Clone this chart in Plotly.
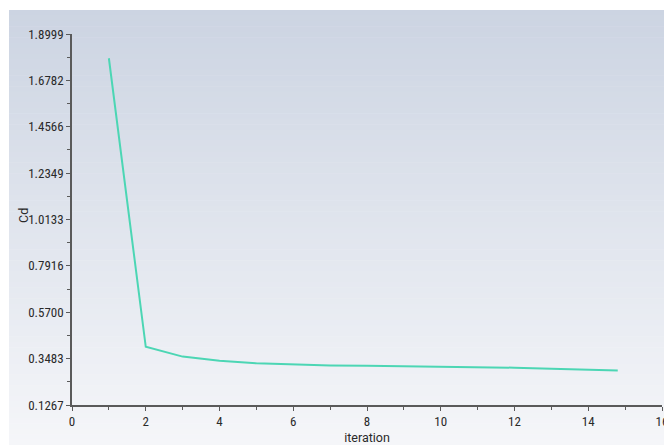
import plotly.graph_objects as go

# Data
iteration = [1, 2, 3, 4, 5, 6, 7, 8, 9, 10, 11, 12, 13, 14, 14.8]
cd = [1.784, 0.405, 0.358, 0.338, 0.326, 0.320, 0.316, 0.314, 0.312, 0.310,
      0.308, 0.305, 0.300, 0.295, 0.291]
y_ticks = [0.1267, 0.3483, 0.5700, 0.7916, 1.0133, 1.2349, 1.4566, 1.6782, 1.8999]
y_tick_text = ["0.1267", "0.3483", "0.5700", "0.7916", "1.0133", "1.2349", "1.4566", "1.6782", "1.8999"]
x_ticks = [0, 2, 4, 6, 8, 10, 12, 14, 16]

W, H = 664, 445
ml, mr, mt, mb = 72, 2, 34, 40
pw = W - ml - mr
ph = H - mt - mb

fig = go.Figure()
fig.add_trace(go.Scatter(
    x=iteration, y=cd, mode="lines",
    line=dict(color="rgb(76,214,180)", width=2),
    showlegend=False, hoverinfo="skip",
))

# gradient background bands (paper coordinates of the plot area)
shapes = []
top_c = (204, 212, 226)
bot_c = (245, 246, 249)
n = 80
for i in range(n):
    t = (i + 0.5) / n
    c = tuple(round(top_c[k] + (bot_c[k] - top_c[k]) * t) for k in range(3))
    py0 = 10 + (H - 10) * i / n
    py1 = 10 + (H - 10) * (i + 1) / n + 0.5
    shapes.append(dict(
        type="rect", xref="paper", yref="paper", layer="below",
        x0=(9 - ml) / pw, x1=(W - ml) / pw,
        y0=(H - mb - py1) / ph, y1=(H - mb - py0) / ph,
        line=dict(width=0), fillcolor="rgb(%d,%d,%d)" % c,
    ))

axis_font = dict(family="Roboto, Liberation Sans, sans-serif", size=12.5, color="#2a2a2a")
tick_font = dict(family="Liberation Sans Narrow, Roboto Condensed, Roboto, sans-serif", size=13, color="#2a2a2a")

fig.update_layout(
    width=W, height=H,
    margin=dict(l=ml, r=mr, t=mt, b=mb, autoexpand=False),
    paper_bgcolor="white",
    plot_bgcolor="rgba(0,0,0,0)",
    shapes=shapes,
    font=axis_font,
    xaxis=dict(
        range=[0, 16], tickvals=x_ticks, ticktext=[str(v) for v in x_ticks],
        showgrid=False, zeroline=False, automargin=False,
        showline=True, linecolor="#5a5a5a", linewidth=1.5,
        ticks="outside", ticklen=4, tickcolor="#5a5a5a", tickwidth=1,
        minor=dict(tickvals=[1, 3, 5, 7, 9, 11, 13, 15], ticks="outside", ticklen=3,
                   tickcolor="#5a5a5a", showgrid=False),
        title=dict(text="iteration", standoff=12, font=axis_font),
        tickfont=tick_font,
        ticklabeloverflow="allow",
    ),
    yaxis=dict(
        range=[0.1267, 1.8999], tickvals=y_ticks, ticktext=y_tick_text,
        showgrid=False, zeroline=False, automargin=False,
        showline=True, linecolor="#5a5a5a", linewidth=1.5,
        ticks="outside", ticklen=4, tickcolor="#5a5a5a", tickwidth=1,
        minor=dict(tickvals=[(y_ticks[i] + y_ticks[i + 1]) / 2 for i in range(len(y_ticks) - 1)],
                   ticks="outside", ticklen=3, tickcolor="#5a5a5a", showgrid=False),
        tickfont=tick_font,
    ),
    annotations=[dict(
        text="Cd", xref="paper", yref="paper",
        x=(23 - ml) / pw, y=(H - mb - 216) / ph,
        xanchor="center", yanchor="middle", textangle=-90,
        showarrow=False, font=axis_font,
    )],
)

fig.write_html("out.html")
